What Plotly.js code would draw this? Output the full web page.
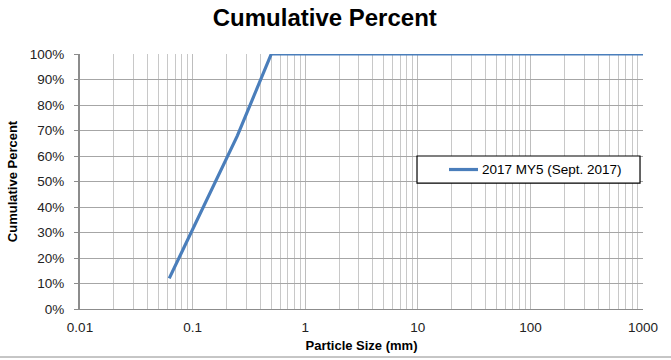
<!DOCTYPE html>
<html>
<head>
<meta charset="utf-8">
<script src="https://cdn.plot.ly/plotly-3.0.1.min.js"></script>
<style>
  html, body { margin: 0; padding: 0; background: #fff; }
  #chart { width: 671px; height: 360px; }
</style>
</head>
<body>
<div id="chart"></div>
<script>
// Sieve sizes (mm) and cumulative percent passing
const seriesName = '2017 MY5 (Sept. 2017)';
const particleSize = [0.062, 0.125, 0.25, 0.5, 1, 2, 4, 8, 16, 32, 64, 128, 256, 512, 1024, 2048];
const cumulativePercent = [12, 40, 68, 100, 100, 100, 100, 100, 100, 100, 100, 100, 100, 100, 100, 100];

const yTickVals = [0, 10, 20, 30, 40, 50, 60, 70, 80, 90, 100];
const yTickText = yTickVals.map(v => v + '%');
const xTickVals = [0.01, 0.1, 1, 10, 100, 1000];
const xTickText = ['0.01', '0.1', '1', '10', '100', '1000'];

const lineColor = '#4a7ebb';
const narrowBold = '"Liberation Sans Narrow", "Arial Narrow", "Liberation Sans", Arial, sans-serif';
const tickFont = { family: '"Liberation Sans", Arial, sans-serif', size: 13.5, color: '#222' };

const trace = {
  x: particleSize,
  y: cumulativePercent,
  type: 'scatter',
  mode: 'lines',
  name: seriesName,
  line: { color: lineColor, width: 3.2 },
  cliponaxis: true
};

// legend box drawn in paper coordinates of the plot area
const legendBox = { x0: 0.5986, x1: 0.9947, y0: 0.494, y1: 0.600 };
const legendMidY = (legendBox.y0 + legendBox.y1) / 2;

const layout = {
  width: 671,
  height: 360,
  margin: { l: 80, r: 28, t: 54, b: 51 },
  paper_bgcolor: '#fff',
  plot_bgcolor: '#fff',
  title: {
    text: '<b>Cumulative Percent</b>',
    font: { family: narrowBold, size: 24, color: '#000' },
    x: 0.484, xanchor: 'center', y: 0.95, yanchor: 'middle'
  },
  showlegend: false,
  xaxis: {
    type: 'log',
    range: [-2, 3],
    tickvals: xTickVals,
    ticktext: xTickText,
    tickfont: tickFont,
    ticks: '',
    ticklabelstandoff: 6,
    showgrid: true,
    gridcolor: '#bdbdbd',
    gridwidth: 1,
    minor: { showgrid: true, gridcolor: '#c8c8c8', gridwidth: 1, dtick: 'D1', ticks: '' },
    showline: true,
    linecolor: '#8c8c8c',
    linewidth: 1,
    mirror: false,
    zeroline: false,
    title: {
      text: '<b>Particle Size (mm)</b>',
      font: { family: narrowBold, size: 13, color: '#000' },
      standoff: 6
    }
  },
  yaxis: {
    range: [0, 100],
    tickvals: yTickVals,
    ticktext: yTickText,
    tickfont: tickFont,
    ticks: 'outside',
    ticklen: 4,
    tickcolor: '#8c8c8c',
    ticklabelstandoff: 7,
    showgrid: true,
    gridcolor: '#a6a6a6',
    gridwidth: 1,
    showline: true,
    linecolor: '#8c8c8c',
    linewidth: 2,
    zeroline: false,
    title: {
      text: '<b>Cumulative Percent</b>',
      font: { family: narrowBold, size: 13, color: '#000' },
      standoff: 9
    }
  },
  shapes: [
    {
      type: 'line', xref: 'paper', yref: 'paper',
      x0: -80 / 563, x1: (671 - 80) / 563, y0: -48 / 255, y1: -48 / 255,
      line: { color: '#8c8c8c', width: 1 }
    },
    {
      type: 'rect', xref: 'paper', yref: 'paper',
      x0: legendBox.x0, x1: legendBox.x1, y0: legendBox.y0, y1: legendBox.y1,
      fillcolor: '#fff', line: { color: '#000', width: 1.2 }, layer: 'above'
    },
    {
      type: 'line', xref: 'paper', yref: 'paper',
      x0: 0.6554, x1: 0.7069, y0: legendMidY, y1: legendMidY,
      line: { color: lineColor, width: 3.2 }, layer: 'above'
    }
  ],
  annotations: [
    {
      xref: 'paper', yref: 'paper', x: 0.7105, y: legendMidY,
      xanchor: 'left', yanchor: 'middle', showarrow: false,
      text: seriesName,
      font: { family: '"Liberation Sans", Arial, sans-serif', size: 13.5, color: '#000' }
    }
  ]
};

Plotly.newPlot('chart', [trace], layout, { staticPlot: true, displayModeBar: false });
</script>
</body>
</html>
